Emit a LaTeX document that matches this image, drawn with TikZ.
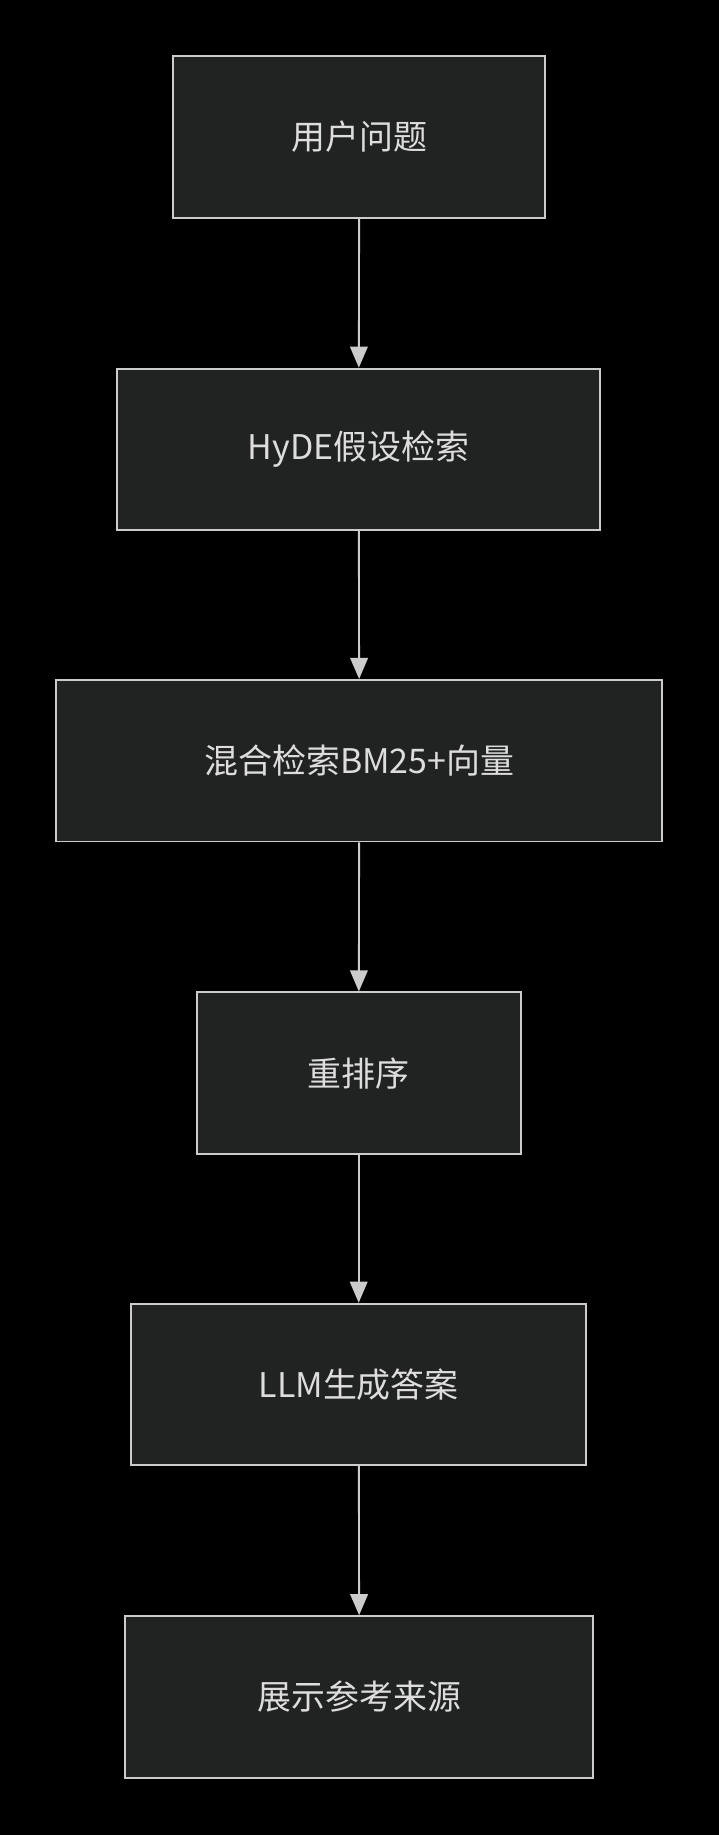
\documentclass[tikz,border=0pt]{standalone}
\usepackage{fontspec}
\setmainfont{Noto Sans CJK SC}
\usetikzlibrary{arrows.meta}
\definecolor{boxfill}{HTML}{212222}
\definecolor{edge}{HTML}{CCCCCC}
\definecolor{txt}{HTML}{DDDDDD}
\begin{document}
\begin{tikzpicture}[x=1pt,y=-1pt,
  stepbox/.style={draw=edge,fill=boxfill,line width=1.6pt,text=txt,font=\fontsize{29}{34}\selectfont,minimum height=138pt,inner sep=0pt},
  conn/.style={draw=edge,line width=1.6pt,-{Triangle[length=18pt,width=15pt]}}]
\fill[black] (0,0) rectangle (614,1568);
\useasboundingbox (0,0) rectangle (614,1568);
\node[stepbox,minimum width=318pt] (a) at (307,117) {用户问题};
\node[stepbox,minimum width=413pt] (b) at (306.5,384) {HyDE假设检索};
\node[stepbox,minimum width=518pt] (c) at (307,650) {混合检索BM25+向量};
\node[stepbox,minimum width=277pt] (d) at (306.5,917) {重排序};
\node[stepbox,minimum width=389pt] (e) at (306.5,1183) {LLM生成答案};
\node[stepbox,minimum width=400pt] (f) at (307,1450) {展示参考来源};
\draw[conn] (a) -- (b);
\draw[conn] (b) -- (c);
\draw[conn] (c) -- (d);
\draw[conn] (d) -- (e);
\draw[conn] (e) -- (f);
\end{tikzpicture}
\end{document}
